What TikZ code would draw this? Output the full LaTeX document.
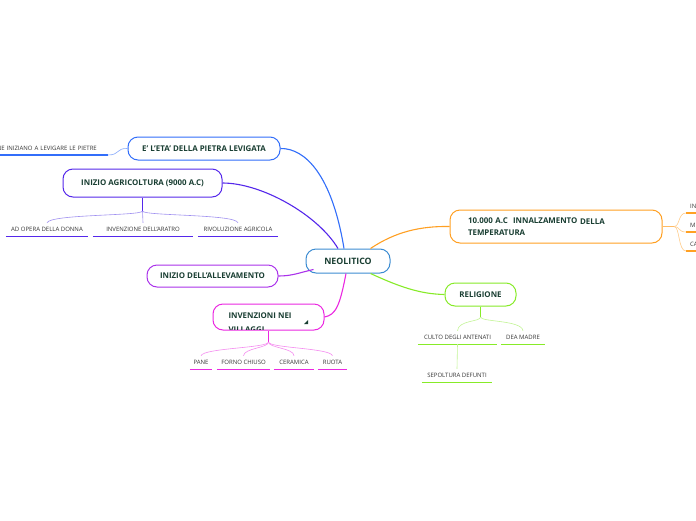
\documentclass[tikz,border=0pt]{standalone}
\usepackage{fontspec}
\setmainfont{Open Sans}
\usetikzlibrary{calc}
\definecolor{neoblue}{RGB}{60, 140, 210}
\definecolor{etablue}{RGB}{50, 110, 250}
\definecolor{agriviolet}{RGB}{85, 40, 235}
\definecolor{agrilight}{RGB}{160, 145, 240}
\definecolor{allepurple}{RGB}{170, 50, 235}
\definecolor{villmagenta}{RGB}{235, 40, 225}
\definecolor{villlight}{RGB}{245, 140, 240}
\definecolor{temporange}{RGB}{255, 160, 35}
\definecolor{templight}{RGB}{255, 205, 140}
\definecolor{religreen}{RGB}{135, 235, 40}
\definecolor{relilight}{RGB}{195, 245, 150}
\definecolor{textdark}{RGB}{25, 62, 50}
\definecolor{leafgrey}{RGB}{55, 55, 55}
\tikzstyle{topic} = [rectangle, rounded corners=10pt, fill=white, line width=1pt, font=\bfseries\fontsize{7.9}{12}\selectfont, text=textdark, inner sep=2pt]
\tikzstyle{leaf} = [rectangle, inner sep=0pt, minimum height=13pt, font=\fontsize{6}{7}\selectfont, text=leafgrey]
\tikzstyle{link} = [line width=1.1pt]
\tikzstyle{twig} = [line width=0.6pt]
\tikzstyle{uline} = [line width=1.4pt]

\begin{document}
\begin{tikzpicture}[x=1pt, y=-1pt]
    \useasboundingbox[fill=white] (0,0) rectangle (696,520);

    % Central topic
    \node[topic, draw=neoblue, minimum width=84pt, minimum height=24pt, font=\bfseries\fontsize{8.8}{10}\selectfont] (neo) at (348, 261) {NEOLITICO};

    % Left side topics
    \node[topic, draw=etablue, minimum width=152pt, minimum height=23pt] (eta) at (204, 148.5) {E' L'ETA' DELLA PIETRA LEVIGATA};
    \node[topic, draw=agriviolet, minimum width=159pt, minimum height=28pt] (agri) at (142.5, 183) {INIZIO AGRICOLTURA (9000 A.C)};
    \node[topic, draw=allepurple, minimum width=131pt, minimum height=22pt] (alle) at (212.5, 276) {INIZIO DELL'ALLEVAMENTO};
    \node[topic, draw=villmagenta, minimum width=111pt, minimum height=26pt] (vill) at (268.5, 317) {};
    \begin{scope}
        \clip (213, 305) rectangle (324, 329);
        \node[topic, fill=none, inner sep=0pt, anchor=north west, align=left, font=\bfseries\fontsize{7.9}{14}\selectfont] (villtext) at (228, 312.5) {INVENZIONI NEI\\VILLAGGI};
    \end{scope}
    \fill[textdark] (304, 324) -- (308, 324) -- (308, 320) -- cycle;

    % Right side topics
    \node[topic, draw=temporange, minimum width=212pt, minimum height=33pt, inner xsep=18pt, text width=176pt, align=left] (temp) at (556, 226.5) {10.000 A.C\ \ INNALZAMENTO \raisebox{-1.5pt}{DELLA}\\TEMPERATURA};
    \node[topic, draw=religreen, minimum width=71pt, minimum height=23pt] (reli) at (480.5, 294.5) {RELIGIONE};

    % Leaves of E' L'ETA'
    \node[leaf, anchor=south east, inner xsep=11pt, text width=110pt, align=right] (levig) at (108, 155) {NE INIZIANO A LEVIGARE LE PIETRE};
    \draw[uline, etablue] (levig.south west) -- (levig.south east);

    % Leaves of agricoltura
    \node[leaf, minimum width=82pt] (donna) at (47, 229.5) {AD OPERA DELLA DONNA};
    \node[leaf, minimum width=100pt] (aratro) at (143, 229.5) {INVENZIONE DELL'ARATRO};
    \node[leaf, minimum width=80pt] (rivol) at (238, 229.5) {RIVOLUZIONE AGRICOLA};
    \foreach \n in {donna, aratro, rivol}
        \draw[uline, agriviolet] (\n.south west) -- (\n.south east);

    % Leaves of villaggi
    \node[leaf, minimum width=22pt] (pane) at (201, 362.5) {PANE};
    \node[leaf, minimum width=53pt] (forno) at (243.5, 362.5) {FORNO CHIUSO};
    \node[leaf, minimum width=40pt] (ceram) at (294, 362.5) {CERAMICA};
    \node[leaf, minimum width=29pt] (ruota) at (332.5, 362.5) {RUOTA};
    \foreach \n in {pane, forno, ceram, ruota}
        \draw[uline, villmagenta] (\n.south west) -- (\n.south east);

    % Leaves of religione
    \node[leaf, minimum width=79pt] (culto) at (457.5, 337.5) {CULTO DEGLI ANTENATI};
    \node[leaf, minimum width=44pt] (dea) at (523, 337.5) {DEA MADRE};
    \node[leaf, minimum width=70pt] (sepol) at (457, 375.5) {SEPOLTURA DEFUNTI};
    \foreach \n in {culto, dea, sepol}
        \draw[uline, religreen] (\n.south west) -- (\n.south east);

    % Leaves of temperatura
    \node[leaf, anchor=south west, inner xsep=4pt, text width=30pt, align=left] (tin) at (686, 213) {IN};
    \node[leaf, anchor=south west, inner xsep=4pt, text width=30pt, align=left] (tmi) at (686, 232) {MI};
    \node[leaf, anchor=south west, inner xsep=4pt, text width=30pt, align=left] (tca) at (686, 251) {CA};
    \foreach \n in {tin, tmi, tca}
        \draw[uline, temporange] (\n.south west) -- (\n.south east);

    % Main links
    \draw[link, etablue] ($(neo.north)+(-4,0)$) .. controls (332, 175) and (305, 148) .. (eta.east);
    \draw[link, agriviolet] ($(neo.north)+(-10,0)$) .. controls (318, 215) and (262, 183) .. (agri.east);
    \draw[link, allepurple] ($(neo.south west)+(8,-4)$) .. controls (298, 273) and (292, 276) .. (alle.east);
    \draw[link, villmagenta] ($(neo.south)+(-2,0)$) .. controls (340, 305) and (336, 315) .. (vill.east);
    \draw[link, temporange] ($(neo.north east)+(-20,0)$) .. controls (395, 232) and (420, 226) .. (temp.west);
    \draw[link, religreen] ($(neo.south east)+(-20,0)$) .. controls (400, 287) and (420, 294) .. (reli.west);

    % Branches to leaves
    \draw[twig, etablue!60] (levig.south east) .. controls (120, 155) and (116, 148) .. (eta.west);

    \coordinate (agrifork) at (142.5, 211);
    \draw[twig, agriviolet] (agri.south) -- (agrifork);
    \draw[twig, agrilight] (agrifork) .. controls (142.5, 216) and (50, 214) .. (donna.north);
    \draw[twig, agrilight] (agrifork) -- (aratro.north);
    \draw[twig, agrilight] (agrifork) .. controls (142.5, 216) and (236, 214) .. (rivol.north);

    \coordinate (villfork) at (268.5, 342);
    \draw[twig, villmagenta] (vill.south) -- (villfork);
    \draw[twig, villlight] (villfork) .. controls (268.5, 348) and (203, 348) .. (pane.north);
    \draw[twig, villlight] (villfork) .. controls (268.5, 348) and (244, 348) .. (forno.north);
    \draw[twig, villlight] (villfork) .. controls (268.5, 348) and (294, 348) .. (ceram.north);
    \draw[twig, villlight] (villfork) .. controls (268.5, 348) and (331, 348) .. (ruota.north);

    \coordinate (relifork) at (480.5, 317);
    \draw[twig, religreen] (reli.south) -- (relifork);
    \draw[twig, relilight] (relifork) .. controls (480.5, 322) and (458, 320) .. (culto.north);
    \draw[twig, relilight] (relifork) .. controls (480.5, 322) and (522, 320) .. (dea.north);
    \draw[twig, relilight] (culto.south) -- (sepol.north);

    \coordinate (tempfork) at (674, 226.5);
    \draw[link, temporange!70] (temp.east) -- (tempfork);
    \draw[twig, templight] (tempfork) .. controls (680, 226.5) and (678, 213) .. (tin.south west);
    \draw[twig, templight] (tempfork) .. controls (680, 226.5) and (678, 232) .. (tmi.south west);
    \draw[twig, templight] (tempfork) .. controls (680, 226.5) and (678, 251) .. (tca.south west);
\end{tikzpicture}
\end{document}
